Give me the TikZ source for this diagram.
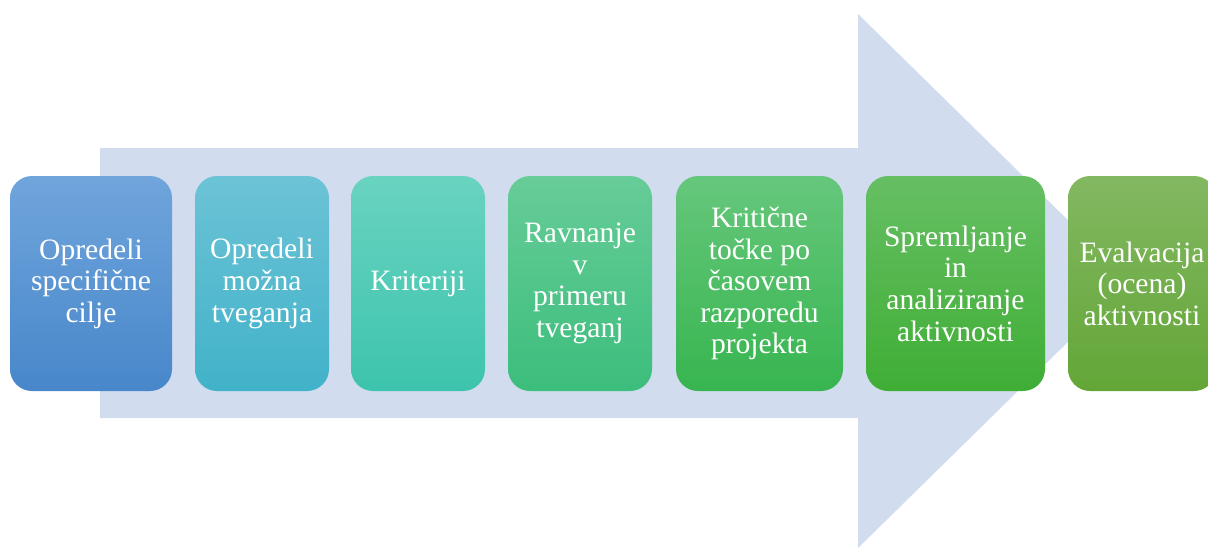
\documentclass[tikz,border=0pt]{standalone}
\usepackage{fontspec}
\setmainfont{Liberation Serif}
\definecolor{arrowbg}{HTML}{D1DCEE}
\definecolor{aT}{HTML}{70A5DC}\definecolor{aB}{HTML}{4787CA}
\definecolor{bT}{HTML}{6CC3D6}\definecolor{bB}{HTML}{41B2C9}
\definecolor{cT}{HTML}{69D3C0}\definecolor{cB}{HTML}{3DC4AE}
\definecolor{dT}{HTML}{67CC98}\definecolor{dB}{HTML}{3CBE7C}
\definecolor{eT}{HTML}{66C77C}\definecolor{eB}{HTML}{37B54F}
\definecolor{fT}{HTML}{66BF63}\definecolor{fB}{HTML}{3FAE35}
\definecolor{gT}{HTML}{83B862}\definecolor{gB}{HTML}{63A637}
\begin{document}
\begin{tikzpicture}[x=0.5pt,y=-0.5pt,
  stepbox/.style={rounded corners=11pt, inner sep=0pt, minimum height=107.5pt,
    text=white, align=center, font=\fontsize{14.8}{15.8}\selectfont},
  bigarrow/.style={fill=arrowbg}]
\useasboundingbox (0,0) rectangle (1208,548);
\clip (0,0) rectangle (1208,548);
\fill[bigarrow] (100,148) -- (858,148) -- (858,14) -- (1130,281) -- (858,548) -- (858,418) -- (100,418) -- cycle;
\node[stepbox, top color=aT, bottom color=aB, minimum width=81pt] (s1) at (91,283.5) {Opredeli\\specifične\\cilje};
\node[stepbox, top color=bT, bottom color=bB, minimum width=67pt] (s2) at (262,283.5) {Opredeli\\možna\\tveganja};
\node[stepbox, top color=cT, bottom color=cB, minimum width=67pt] (s3) at (418,283.5) {Kriteriji};
\node[stepbox, top color=dT, bottom color=dB, minimum width=72pt] (s4) at (580,283.5) {Ravnanje\\v\\primeru\\tveganj};
\node[stepbox, top color=eT, bottom color=eB, minimum width=83.5pt] (s5) at (759.5,283.5) {Kritične\\točke po\\časovem\\razporedu\\projekta};
\node[stepbox, top color=fT, bottom color=fB, minimum width=89.5pt] (s6) at (955.5,283.5) {Spremljanje\\in\\analiziranje\\aktivnosti};
\node[stepbox, top color=gT, bottom color=gB, minimum width=74pt] (s7) at (1142,283.5) {Evalvacija\\(ocena)\\aktivnosti};
\end{tikzpicture}
\end{document}
